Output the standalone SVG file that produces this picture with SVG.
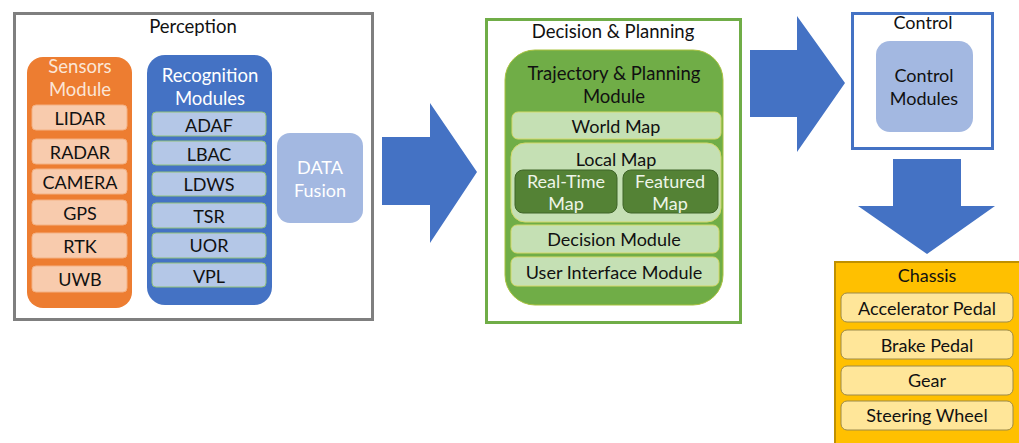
<svg xmlns="http://www.w3.org/2000/svg" width="1019" height="443" viewBox="0 0 1019 443">
<style>
text{font-family:Lato,"Liberation Sans",sans-serif;font-size:18px;text-anchor:middle;dominant-baseline:central;fill:#111}
.w{fill:#fff}
.lw{fill:#eef5e8}
.title{font-size:18.5px}
.frame{fill:#fff;stroke-width:3}
.sitem{fill:#F8CBAD;stroke:#F4B183;stroke-width:1}
.ritem{fill:#B4C7E7;stroke:#8FC07A;stroke-width:1}
.gitem{fill:#C5E0B4;stroke:#D4D96A;stroke-width:1}
.ditem{fill:#548235;stroke:#3F6428;stroke-width:1}
.citem{fill:#FFE699;stroke:#9C8A4A;stroke-width:1}
.arrow{fill:#4472C4}
</style>
<g id="perception">
<rect class="frame" x="14.5" y="13.5" width="358" height="306" stroke="#7F7F7F"/>
<text x="193" y="26" class="title">Perception</text>
</g>
<g id="sensors">
<rect x="27" y="57" width="105" height="251" rx="16" fill="#ED7D31"/>
<text x="80" y="66" class="w title" style="fill:#FBE5D6">Sensors</text>
<text x="80" y="89" class="w title" style="fill:#FBE5D6">Module</text>
<rect class="sitem" x="32" y="105" width="95" height="25" rx="4"/><text x="80" y="118">LIDAR</text>
<rect class="sitem" x="32" y="139" width="95" height="25" rx="4"/><text x="80" y="152">RADAR</text>
<rect class="sitem" x="32" y="169" width="95" height="25" rx="4"/><text x="80" y="182">CAMERA</text>
<rect class="sitem" x="32" y="200" width="95" height="25" rx="4"/><text x="80" y="213">GPS</text>
<rect class="sitem" x="32" y="233" width="95" height="25" rx="4"/><text x="80" y="246">RTK</text>
<rect class="sitem" x="32" y="266" width="95" height="26" rx="4"/><text x="80" y="279">UWB</text>
</g>
<g id="recognition">
<rect x="147" y="55" width="125" height="250" rx="18" fill="#4472C4"/>
<text x="210" y="75" class="w title">Recognition</text>
<text x="210" y="98" class="w title">Modules</text>
<rect class="ritem" x="152" y="112" width="114" height="24" rx="4"/><text x="209" y="125">ADAF</text>
<rect class="ritem" x="152" y="141" width="114" height="24" rx="4"/><text x="209" y="154">LBAC</text>
<rect class="ritem" x="152" y="172" width="114" height="24" rx="4"/><text x="209" y="184">LDWS</text>
<rect class="ritem" x="152" y="203" width="114" height="25" rx="4"/><text x="209" y="216">TSR</text>
<rect class="ritem" x="152" y="233" width="114" height="25" rx="4"/><text x="209" y="245">UOR</text>
<rect class="ritem" x="152" y="263" width="114" height="24" rx="4"/><text x="209" y="276">VPL</text>
</g>
<g id="data-fusion">
<rect x="277" y="133" width="86" height="90" rx="13" fill="#A3B8E1"/>
<text x="320" y="167" class="w">DATA</text>
<text x="320" y="190" class="w">Fusion</text>
</g>
<g id="decision-planning">
<rect class="frame" x="486.5" y="19.5" width="254" height="303" stroke="#70AD47"/>
<text x="613" y="31" class="title">Decision &amp; Planning</text>
</g>
<g id="trajectory">
<rect x="505" y="50" width="218" height="255" rx="30" fill="#70AD47" stroke="#A9C23F" stroke-width="1"/>
<text x="614" y="73" class="title">Trajectory &amp; Planning</text>
<text x="614" y="96" class="title">Module</text>
<rect class="gitem" x="512" y="112" width="209" height="27" rx="6"/><text x="616" y="126">World Map</text>
<rect class="gitem" x="511" y="143" width="210" height="79" rx="14"/><text x="616" y="159">Local Map</text>
<rect class="ditem" x="515" y="170" width="102" height="43" rx="8"/>
<text x="566" y="181" class="lw">Real-Time</text><text x="566" y="203" class="lw">Map</text>
<rect class="ditem" x="623" y="170" width="95" height="43" rx="8"/>
<text x="670" y="181" class="lw">Featured</text><text x="670" y="203" class="lw">Map</text>
<rect class="gitem" x="511" y="225" width="208" height="28" rx="6"/><text x="614" y="239">Decision Module</text>
<rect class="gitem" x="511" y="257" width="208" height="29" rx="6"/><text x="614" y="272">User Interface Module</text>
</g>
<g id="control">
<rect class="frame" x="852.5" y="13.5" width="140" height="135" stroke="#4472C4"/>
<text x="923" y="22">Control</text>
<rect x="876" y="41" width="97" height="91" rx="14" fill="#A3B8E1"/>
<text x="924" y="75">Control</text>
<text x="924" y="98">Modules</text>
</g>
<g id="chassis">
<rect x="835" y="262" width="190" height="190" fill="#FFC000" stroke="#BF9000" stroke-width="2"/>
<text x="927" y="275">Chassis</text>
<rect class="citem" x="841" y="293" width="172" height="29" rx="6"/><text x="927" y="308">Accelerator Pedal</text>
<rect class="citem" x="841" y="330" width="172" height="29" rx="6"/><text x="927" y="345">Brake Pedal</text>
<rect class="citem" x="841" y="366" width="172" height="29" rx="6"/><text x="927" y="380">Gear</text>
<rect class="citem" x="841" y="401" width="172" height="29" rx="6"/><text x="927" y="415">Steering Wheel</text>
</g>
<g id="connectors">
<polygon class="arrow" points="382,137 430,137 430,103 477,172 430,243 430,205 382,205"/>
<polygon class="arrow" points="750,50 797,50 797,16 845,83 797,152 797,117 750,117"/>
<polygon class="arrow" points="893,159 961,159 961,206 995,206 927,254 858,206 893,206"/>
</g>
</svg>
